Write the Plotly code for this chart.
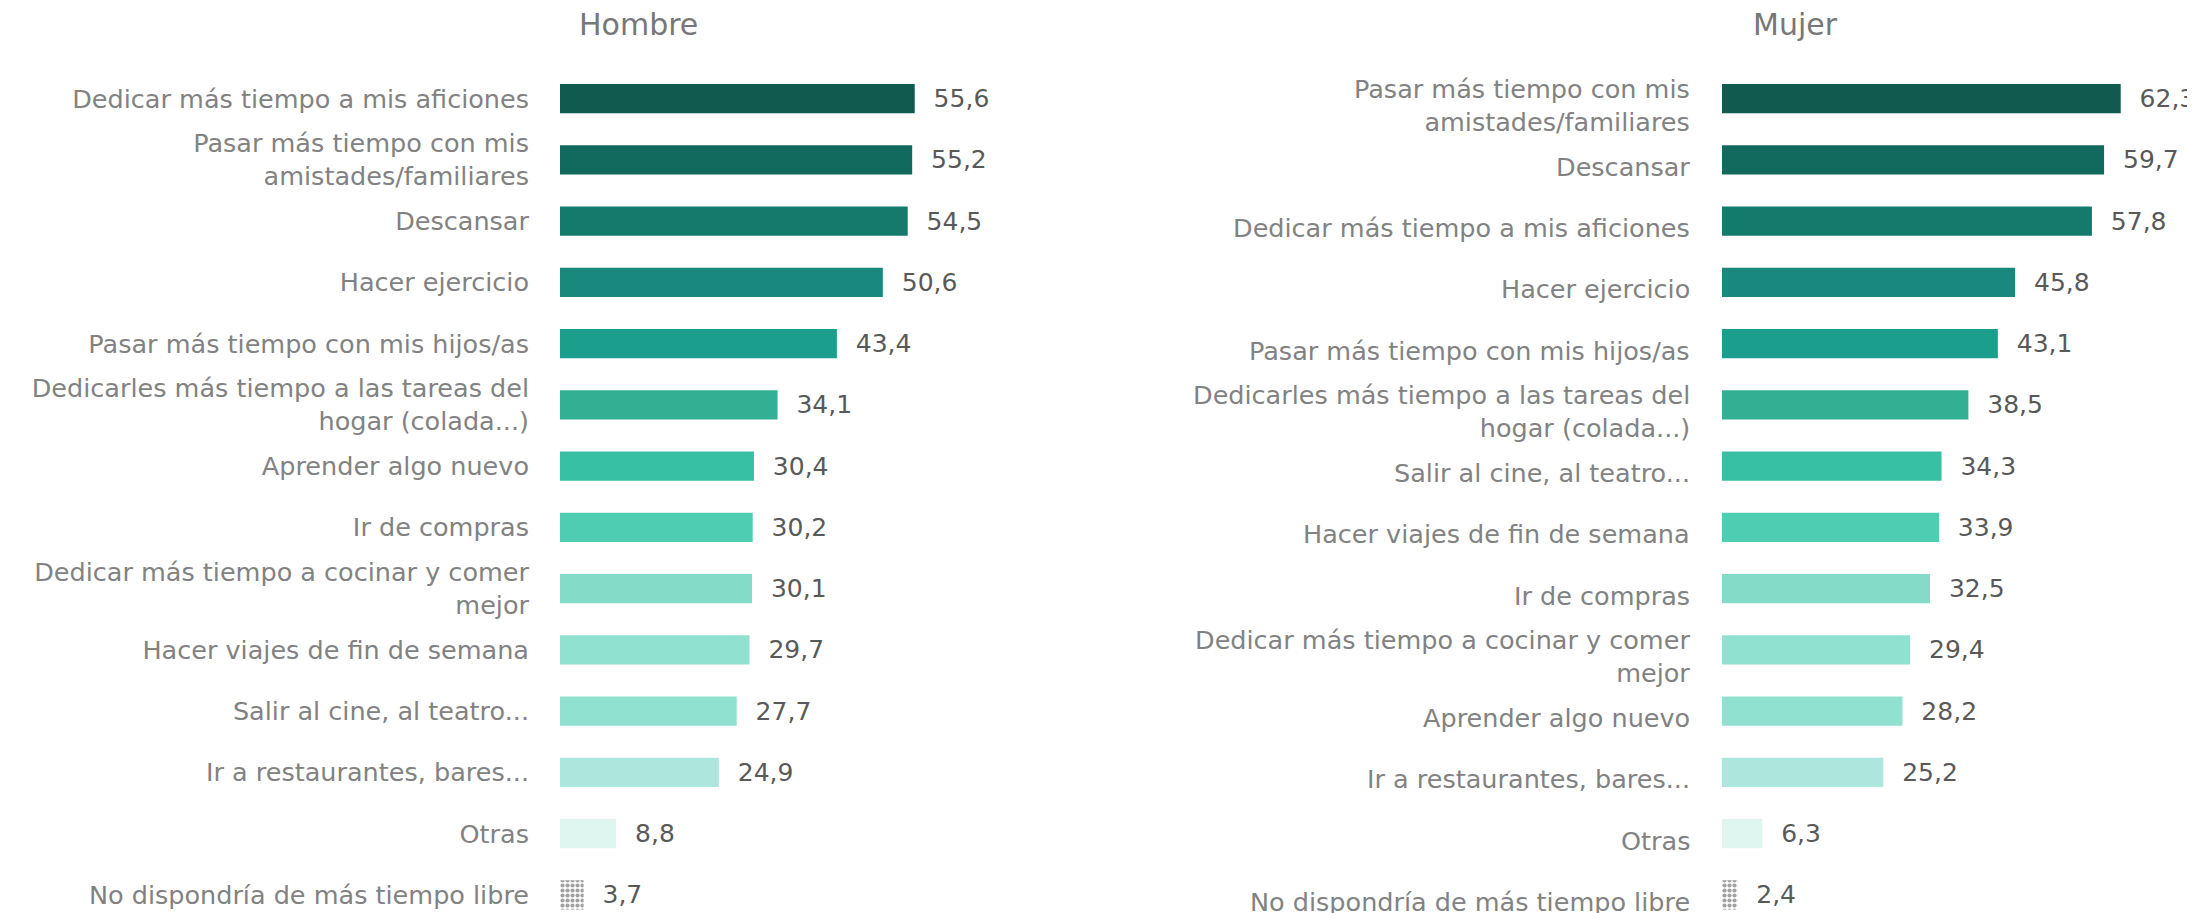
import plotly.graph_objects as go

# Hombre (top to bottom)
hombre_labels = [
    "Dedicar más tiempo a mis aficiones",
    "Pasar más tiempo con mis<br>amistades/familiares",
    "Descansar",
    "Hacer ejercicio",
    "Pasar más tiempo con mis hijos/as",
    "Dedicarles más tiempo a las tareas del<br>hogar (colada...)",
    "Aprender algo nuevo",
    "Ir de compras",
    "Dedicar más tiempo a cocinar y comer<br>mejor",
    "Hacer viajes de fin de semana",
    "Salir al cine, al teatro...",
    "Ir a restaurantes, bares...",
    "Otras",
    "No dispondría de más tiempo libre",
]
hombre_values = [55.6, 55.2, 54.5, 50.6, 43.4, 34.1, 30.4, 30.2, 30.1, 29.7, 27.7, 24.9, 8.8, 3.7]

# Mujer (top to bottom)
mujer_labels = [
    "Pasar más tiempo con mis<br>amistades/familiares",
    "Descansar",
    "Dedicar más tiempo a mis aficiones",
    "Hacer ejercicio",
    "Pasar más tiempo con mis hijos/as",
    "Dedicarles más tiempo a las tareas del<br>hogar (colada...)",
    "Salir al cine, al teatro...",
    "Hacer viajes de fin de semana",
    "Ir de compras",
    "Dedicar más tiempo a cocinar y comer<br>mejor",
    "Aprender algo nuevo",
    "Ir a restaurantes, bares...",
    "Otras",
    "No dispondría de más tiempo libre",
]
mujer_values = [62.3, 59.7, 57.8, 45.8, 43.1, 38.5, 34.3, 33.9, 32.5, 29.4, 28.2, 25.2, 6.3, 2.4]

# colour by rank, last one is a dotted pattern
rank_colors = ["#105a4f", "#12695e", "#147a6c", "#18897c", "#1b9e8b", "#33b094", "#38c0a5",
               "#4fcdb3", "#84dbc8", "#90e1cf", "#90e1cf", "#ade6dc", "#dff5ef", "#ffffff"]
pattern_shapes = [""] * 13 + ["."]

FONT = "DejaVu Sans"
LABEL_COLOR = "#828282"
VALUE_COLOR = "#595959"
TITLE_COLOR = "#777777"
LABEL_SIZE = 25.5

# the page body adds an 8px margin, so positions are shifted back by it
OFF = 8


def make_bar(labels, values, xaxis, yaxis):
    return go.Bar(
        x=values, y=labels, orientation="h",
        xaxis=xaxis, yaxis=yaxis,
        width=0.48,
        marker=dict(color=rank_colors, line=dict(width=0),
                    pattern=dict(shape=pattern_shapes, fgcolor="#13876f", bgcolor="#ffffff",
                                 size=5, solidity=0.55)),
        text=["\u00a0\u00a0" + f"{v:.1f}".replace(".", ",") for v in values],
        textposition="outside",
        textfont=dict(family=FONT, size=25, color=VALUE_COLOR),
        cliponaxis=False,
        showlegend=False,
    )


fig = go.Figure()
fig.add_trace(make_bar(hombre_labels, hombre_values, "x", "y"))
fig.add_trace(make_bar(mujer_labels, mujer_values, "x2", "y2"))

W, H = 2195, 913
T = 68 - OFF
ROW = 61.25
yrange = [(H - T) / ROW - 0.5, -0.5]
common_y = dict(type="category", range=yrange, showgrid=False, zeroline=False, showline=False,
                ticks="", ticklabelstandoff=30, automargin=False,
                tickfont=dict(family=FONT, size=LABEL_SIZE, color=LABEL_COLOR))
common_x = dict(showgrid=False, zeroline=False, showline=False, showticklabels=False, ticks="")

x0h = 560 - OFF
x0m = 1722 - OFF

# the Mujer labels sit a little lower than their bars, so they are drawn as annotations
mujer_annots = [
    dict(text=lab, xref="x2", yref="y2", x=0, y=lab, xanchor="right", yanchor="middle",
         align="right", xshift=-30, yshift=-7, showarrow=False,
         font=dict(family=FONT, size=LABEL_SIZE, color=LABEL_COLOR))
    for lab in mujer_labels
]

fig.update_layout(
    width=W, height=H,
    margin=dict(l=0, r=0, t=T, b=0),
    plot_bgcolor="white", paper_bgcolor="white",
    font=dict(family=FONT),
    xaxis=dict(domain=[x0h / W, (x0h + 70 * 6.38) / W], range=[0, 70], **common_x),
    yaxis=dict(anchor="x", **common_y),
    xaxis2=dict(domain=[x0m / W, (x0m + 68 * 6.4) / W], range=[0, 68], anchor="y2", **common_x),
    yaxis2=dict(anchor="x2", **common_y),
    annotations=[
        dict(text="Hombre", xref="paper", yref="paper", x=(577 - OFF) / W, y=1 + (T - 25 + OFF) / (H - T),
             xanchor="left", yanchor="middle", showarrow=False,
             font=dict(family=FONT, size=30, color=TITLE_COLOR)),
        dict(text="Mujer", xref="paper", yref="paper", x=(1751 - OFF) / W, y=1 + (T - 25 + OFF) / (H - T),
             xanchor="left", yanchor="middle", showarrow=False,
             font=dict(family=FONT, size=30, color=TITLE_COLOR)),
    ] + mujer_annots,
)
fig.update_yaxes(showticklabels=False, selector=dict(anchor="x2"))

fig.write_html("out.html")
